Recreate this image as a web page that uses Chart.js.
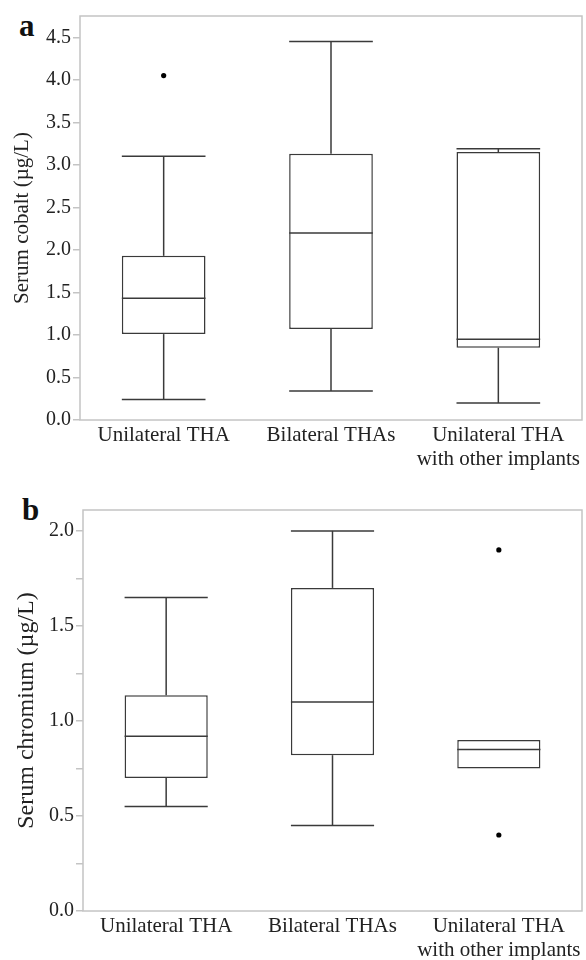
<!DOCTYPE html>
<html>
<head>
<meta charset="utf-8">
<script src="https://cdn.jsdelivr.net/npm/chart.js@4/dist/chart.umd.min.js"></script>
<style>
  body { margin: 0; background: #fff; width: 586px; height: 960px; position: relative; overflow: hidden; }
  canvas { position: absolute; left: 0; }
  .tag { position: absolute; font: bold 31px 'Liberation Serif', serif; color: #111; }
</style>
</head>
<body>
<div class="tag" style="left:19px; top:8px;">a</div>
<canvas id="cobalt" width="586" height="485" style="top:0"></canvas>
<div class="tag" style="left:22px; top:492px;">b</div>
<canvas id="chromium" width="586" height="490" style="top:470px"></canvas>
<script>
let groups = ['Unilateral THA', 'Bilateral THAs', ['Unilateral THA', 'with other implants']],
    cobaltLow = [0.24, 0.34, 0.20],
    cobaltQ1 = [1.01, 1.07, 0.85],
    cobaltMedian = [1.43, 2.20, 0.95],
    cobaltQ3 = [1.93, 3.13, 3.15],
    cobaltHigh = [3.10, 4.45, 3.19],
    cobaltOutliers = [[0, 4.05]],
    chromiumLow = [0.55, 0.45, 0.75],
    chromiumQ1 = [0.70, 0.82, 0.75],
    chromiumMedian = [0.92, 1.10, 0.85],
    chromiumQ3 = [1.135, 1.70, 0.90],
    chromiumHigh = [1.65, 2.00, 0.90],
    chromiumOutliers = [[2, 1.90], [2, 0.40]];

const serif = "'Liberation Serif', 'Times New Roman', serif";
const ink = '#3a3a3a';
const frame = '#c4c4c4';

// whiskers, caps and medians, drawn over the floating bars
const boxPlugin = {
    id: 'boxes',
    afterDatasetsDraw(chart, args, opts) {
        const ctx = chart.ctx, y = chart.scales.y;
        const meta = chart.getDatasetMeta(0);
        const line = (x1, y1, x2, y2) => {
            ctx.beginPath(); ctx.moveTo(x1, y1); ctx.lineTo(x2, y2); ctx.stroke();
        };
        ctx.save();
        ctx.strokeStyle = ink;
        ctx.lineWidth = 1.5;
        opts.median.forEach(function (m, i) {
            const bar = meta.data[i], cx = bar.x, half = bar.width / 2;
            line(cx - half, y.getPixelForValue(m), cx + half, y.getPixelForValue(m));
            if (opts.high[i] > opts.q3[i]) {
                line(cx, y.getPixelForValue(opts.q3[i]), cx, y.getPixelForValue(opts.high[i]));
                line(cx - half, y.getPixelForValue(opts.high[i]), cx + half, y.getPixelForValue(opts.high[i]));
            }
            if (opts.low[i] < opts.q1[i]) {
                line(cx, y.getPixelForValue(opts.q1[i]), cx, y.getPixelForValue(opts.low[i]));
                line(cx - half, y.getPixelForValue(opts.low[i]), cx + half, y.getPixelForValue(opts.low[i]));
            }
        });
        ctx.restore();
    }
};

const framePlugin = {
    id: 'frame',
    afterDraw(chart) {
        const {ctx, chartArea: a} = chart;
        ctx.save();
        ctx.strokeStyle = frame;
        ctx.lineWidth = 1.5;
        ctx.strokeRect(a.left, a.top, a.right - a.left, a.bottom - a.top);
        ctx.restore();
    }
};

function boxChart(id, o) {
    const ctx = document.getElementById(id).getContext('2d');
    // one point dataset per outlier, null in the other categories
    const dots = o.outliers.map(p => ({
        type: 'line',
        data: groups.map((g, i) => (i === p[0] ? p[1] : null)),
        showLine: false,
        pointRadius: 2.6,
        pointBackgroundColor: '#000',
        pointBorderWidth: 0
    }));
    return new Chart(ctx, {
        type: 'bar',
        data: {
            labels: groups,
            datasets: [{
                data: o.q1.map((v, i) => [v, o.q3[i]]),
                backgroundColor: '#fff',
                borderColor: ink,
                borderWidth: 1.5,
                borderSkipped: false,
                barPercentage: 0.5,
                categoryPercentage: 1
            }].concat(dots)
        },
        options: {
            responsive: false,
            animation: false,
            devicePixelRatio: 1,
            layout: {padding: {top: o.top, right: 1, left: 0, bottom: 0}},
            plugins: {
                legend: {display: false},
                tooltip: {enabled: false},
                boxes: {low: o.low, q1: o.q1, median: o.median, q3: o.q3, high: o.high}
            },
            scales: {
                x: {
                    grid: {display: false},
                    border: {display: false},
                    ticks: {color: '#222', font: {family: serif, size: 21, lineHeight: 1.12}, padding: -4, maxRotation: 0, autoSkip: false},
                    afterFit: s => { s.height = o.xHeight; }
                },
                y: {
                    min: 0,
                    max: o.max,
                    grid: {drawOnChartArea: false, color: frame, lineWidth: 1.5, tickLength: 7},
                    border: {display: false},
                    ticks: {
                        stepSize: o.step,
                        includeBounds: false,
                        padding: 2,
                        color: '#222',
                        font: {family: serif, size: 20},
                        callback: v => (Math.abs(v * 2 - Math.round(v * 2)) < 1e-6 ? v.toFixed(1) : '')
                    },
                    title: {display: true, text: o.title, color: '#222', font: {family: serif, size: o.titleSize}, padding: {top: o.titlePad, bottom: 0}},
                    afterFit: s => { s.width = o.yWidth; }
                }
            }
        },
        plugins: [boxPlugin, framePlugin]
    });
}

boxChart('cobalt', {
    low: cobaltLow, q1: cobaltQ1, median: cobaltMedian, q3: cobaltQ3, high: cobaltHigh,
    outliers: cobaltOutliers, title: 'Serum cobalt (µg/L)', titleSize: 21, titlePad: 10,
    max: 4.75, step: 0.5, top: 16, xHeight: 65, yWidth: 80
});

boxChart('chromium', {
    low: chromiumLow, q1: chromiumQ1, median: chromiumMedian, q3: chromiumQ3, high: chromiumHigh,
    outliers: chromiumOutliers, title: 'Serum chromium (µg/L)', titleSize: 24, titlePad: 12,
    max: 2.11, step: 0.25, top: 40, xHeight: 49, yWidth: 83
});
</script>
</body>
</html>
